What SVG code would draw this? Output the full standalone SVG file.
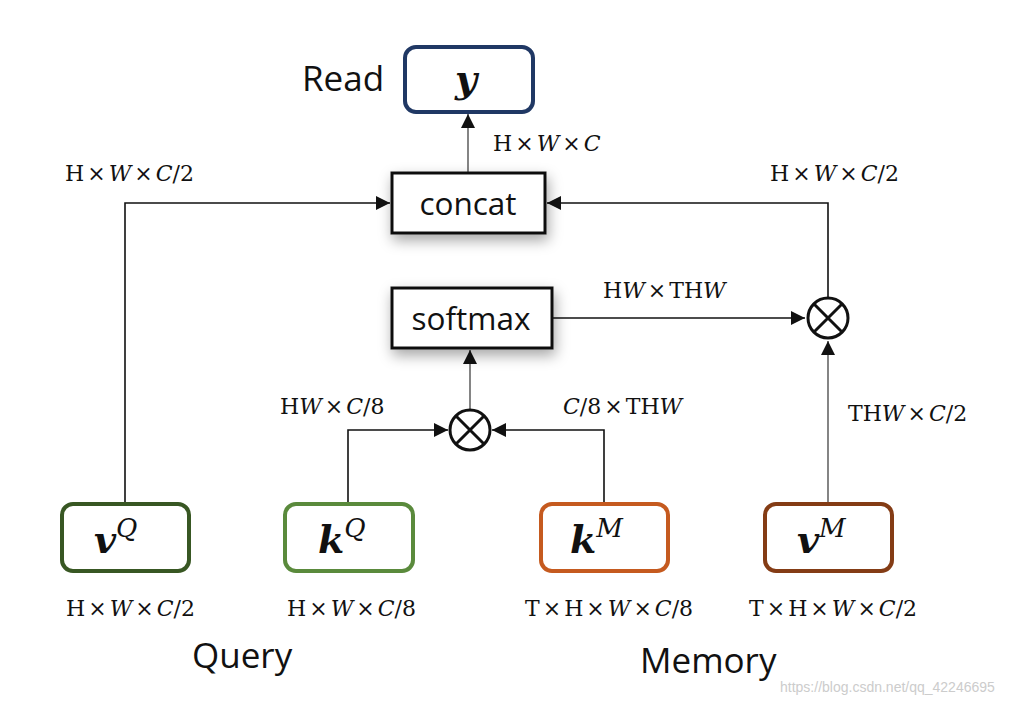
<svg xmlns="http://www.w3.org/2000/svg" width="1034" height="704" viewBox="0 0 1034 704">
<style>
.lbl{font-family:"DejaVu Serif","Liberation Serif",serif;font-size:22px;fill:#111}
.it{font-style:italic}
.big{font-family:"Open Sans","Liberation Sans",sans-serif;font-size:35px;fill:#111}
.box{font-family:"Open Sans","Liberation Sans",sans-serif;font-size:31.5px;fill:#111}
.node{fill:#fff;stroke-width:4}
.var{font-family:"DejaVu Serif","Liberation Serif",serif;font-style:italic;fill:#111}
.ln{fill:none;stroke:#111;stroke-width:1.6}
.lg{fill:none;stroke:#666;stroke-width:1.6}
.op{fill:#fff;stroke:#111;stroke-width:3}
</style>
<defs>
<marker id="ah2" viewBox="0 0 10 10" refX="10" refY="5" markerWidth="14" markerHeight="14" markerUnits="userSpaceOnUse" orient="auto"><path d="M0,0L10,5L0,10z" fill="#111"/></marker>
<filter id="sh" x="-30%" y="-40%" width="160%" height="190%"><feDropShadow dx="2" dy="6" stdDeviation="7" flood-color="#000" flood-opacity="0.35"/></filter>
</defs>
<rect width="1034" height="704" fill="#fff"/>

<g id="connectors">
<path class="lg" d="M468,172V114" marker-end="url(#ah2)"/>
<path class="ln" d="M125,502V203H390" marker-end="url(#ah2)"/>
<path class="ln" d="M828,297V203H547" marker-end="url(#ah2)"/>
<path class="ln" d="M553,318H805" marker-end="url(#ah2)"/>
<path class="lg" d="M828,502V341" marker-end="url(#ah2)"/>
<path class="lg" d="M470,409V350" marker-end="url(#ah2)"/>
<path class="ln" d="M348,502V430H448" marker-end="url(#ah2)"/>
<path class="ln" d="M604,502V430H492" marker-end="url(#ah2)"/>
</g>

<g id="labels">
<text class="big" x="302" y="91">Read</text>
<text class="lbl" x="493" y="151">H<tspan dx="3">×</tspan><tspan dx="3" class="it">W</tspan><tspan dx="3">×</tspan><tspan dx="3" class="it">C</tspan></text>
<text class="lbl" x="65" y="181">H<tspan dx="3">×</tspan><tspan dx="3" class="it">W</tspan><tspan dx="3">×</tspan><tspan dx="3" class="it">C</tspan>/2</text>
<text class="lbl" x="770" y="181">H<tspan dx="3">×</tspan><tspan dx="3" class="it">W</tspan><tspan dx="3">×</tspan><tspan dx="3" class="it">C</tspan>/2</text>
<text class="lbl" x="603" y="298">H<tspan class="it">W</tspan><tspan dx="3">×</tspan><tspan dx="3">TH</tspan><tspan class="it">W</tspan></text>
<text class="lbl" x="280" y="414">H<tspan class="it">W</tspan><tspan dx="3">×</tspan><tspan dx="3" class="it">C</tspan>/8</text>
<text class="lbl" x="563" y="414"><tspan class="it">C</tspan>/8<tspan dx="3">×</tspan><tspan dx="3">TH</tspan><tspan class="it">W</tspan></text>
<text class="lbl" x="848" y="421">TH<tspan class="it">W</tspan><tspan dx="3">×</tspan><tspan dx="3" class="it">C</tspan>/2</text>
<text class="lbl" x="66" y="616">H<tspan dx="3">×</tspan><tspan dx="3" class="it">W</tspan><tspan dx="3">×</tspan><tspan dx="3" class="it">C</tspan>/2</text>
<text class="lbl" x="287" y="616">H<tspan dx="3">×</tspan><tspan dx="3" class="it">W</tspan><tspan dx="3">×</tspan><tspan dx="3" class="it">C</tspan>/8</text>
<text class="lbl" x="525" y="616">T<tspan dx="3">×</tspan><tspan dx="3">H</tspan><tspan dx="3">×</tspan><tspan dx="3" class="it">W</tspan><tspan dx="3">×</tspan><tspan dx="3" class="it">C</tspan>/8</text>
<text class="lbl" x="749" y="616">T<tspan dx="3">×</tspan><tspan dx="3">H</tspan><tspan dx="3">×</tspan><tspan dx="3" class="it">W</tspan><tspan dx="3">×</tspan><tspan dx="3" class="it">C</tspan>/2</text>
<text class="big" x="192" y="668">Query</text>
<text class="big" x="640" y="673">Memory</text>
<text x="780" y="692" font-family="Liberation Sans,Arial,sans-serif" font-size="14" fill="#ccc">https://blog.csdn.net/qq_42246695</text>
</g>

<g id="node-y">
<rect class="node" x="405" y="47" width="128" height="65" rx="11" stroke="#203864"/>
<text class="var" x="466" y="92" font-size="38" font-weight="bold" text-anchor="middle">y</text>
</g>

<g id="node-concat">
<rect x="392" y="173" width="153" height="60" fill="#fff" stroke="#111" stroke-width="3" filter="url(#sh)"/>
<text class="box" x="468" y="215" text-anchor="middle">concat</text>
</g>

<g id="node-softmax">
<rect x="392" y="288" width="160" height="60" fill="#fff" stroke="#111" stroke-width="3" filter="url(#sh)"/>
<text class="box" x="471" y="330" text-anchor="middle">softmax</text>
</g>

<g id="op-mul1">
<circle class="op" cx="470" cy="430" r="20"/>
<path d="M456,416L484,444M484,416L456,444" stroke="#111" stroke-width="3"/>
</g>

<g id="op-mul2">
<circle class="op" cx="828" cy="318" r="20"/>
<path d="M814,304L842,332M842,304L814,332" stroke="#111" stroke-width="3"/>
</g>

<g id="node-vQ">
<rect class="node" x="62" y="504" width="127" height="67" rx="11" stroke="#385723"/>
<text class="var" x="94" y="553" font-size="38" font-weight="bold">v<tspan font-size="26" font-weight="normal" dy="-16">Q</tspan></text>
</g>

<g id="node-kQ">
<rect class="node" x="285" y="504" width="128" height="67" rx="11" stroke="#5a8a3c"/>
<text class="var" x="318" y="553" font-size="38" font-weight="bold">k<tspan font-size="26" font-weight="normal" dy="-16">Q</tspan></text>
</g>

<g id="node-kM">
<rect class="node" x="541" y="504" width="127" height="67" rx="11" stroke="#c55a1f"/>
<text class="var" x="570" y="553" font-size="38" font-weight="bold">k<tspan font-size="26" font-weight="normal" dy="-16">M</tspan></text>
</g>

<g id="node-vM">
<rect class="node" x="765" y="504" width="127" height="67" rx="11" stroke="#843c15"/>
<text class="var" x="797" y="553" font-size="38" font-weight="bold">v<tspan font-size="26" font-weight="normal" dy="-16">M</tspan></text>
</g>
</svg>
